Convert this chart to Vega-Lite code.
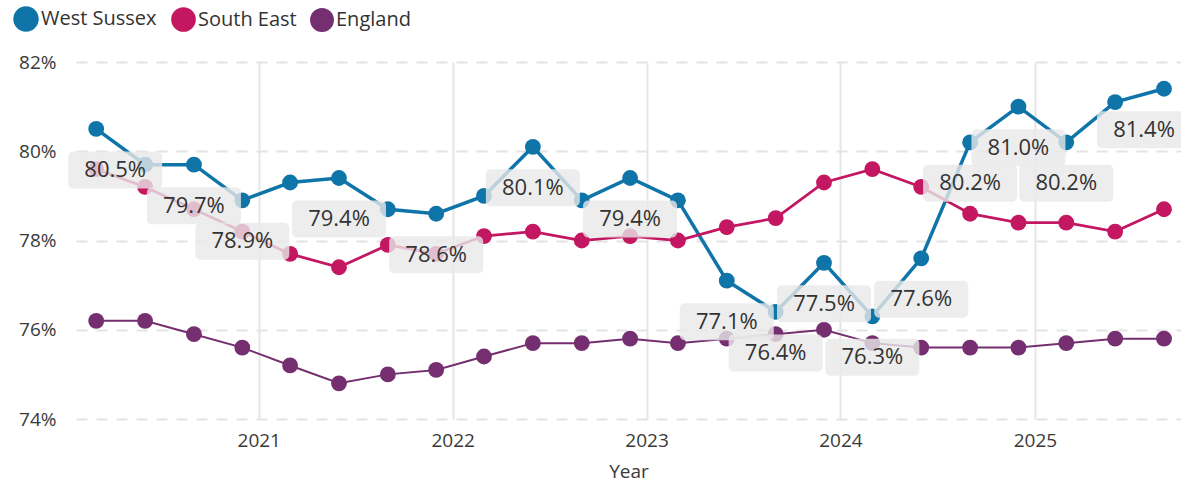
{
  "$schema": "https://vega.github.io/schema/vega-lite/v6.json",
  "width": 1105,
  "height": 357,
  "autosize": {"type": "none"},
  "padding": {"left": 76, "top": 62, "right": 0, "bottom": 75},
  "background": "white",
  "config": {
    "view": {"stroke": null},
    "font": "Open Sans"
  },
  "data": {
    "values": [
      {"date": "2020-03-01", "series": "West Sussex", "value": 80.5},
      {"date": "2020-06-01", "series": "West Sussex", "value": 79.7},
      {"date": "2020-09-01", "series": "West Sussex", "value": 79.7},
      {"date": "2020-12-01", "series": "West Sussex", "value": 78.9},
      {"date": "2021-03-01", "series": "West Sussex", "value": 79.3},
      {"date": "2021-06-01", "series": "West Sussex", "value": 79.4},
      {"date": "2021-09-01", "series": "West Sussex", "value": 78.7},
      {"date": "2021-12-01", "series": "West Sussex", "value": 78.6},
      {"date": "2022-03-01", "series": "West Sussex", "value": 79.0},
      {"date": "2022-06-01", "series": "West Sussex", "value": 80.1},
      {"date": "2022-09-01", "series": "West Sussex", "value": 78.9},
      {"date": "2022-12-01", "series": "West Sussex", "value": 79.4},
      {"date": "2023-03-01", "series": "West Sussex", "value": 78.9},
      {"date": "2023-06-01", "series": "West Sussex", "value": 77.1},
      {"date": "2023-09-01", "series": "West Sussex", "value": 76.4},
      {"date": "2023-12-01", "series": "West Sussex", "value": 77.5},
      {"date": "2024-03-01", "series": "West Sussex", "value": 76.3},
      {"date": "2024-06-01", "series": "West Sussex", "value": 77.6},
      {"date": "2024-09-01", "series": "West Sussex", "value": 80.2},
      {"date": "2024-12-01", "series": "West Sussex", "value": 81.0},
      {"date": "2025-03-01", "series": "West Sussex", "value": 80.2},
      {"date": "2025-06-01", "series": "West Sussex", "value": 81.1},
      {"date": "2025-09-01", "series": "West Sussex", "value": 81.4},
      {"date": "2020-03-01", "series": "South East", "value": 79.6},
      {"date": "2020-06-01", "series": "South East", "value": 79.2},
      {"date": "2020-09-01", "series": "South East", "value": 78.7},
      {"date": "2020-12-01", "series": "South East", "value": 78.2},
      {"date": "2021-03-01", "series": "South East", "value": 77.7},
      {"date": "2021-06-01", "series": "South East", "value": 77.4},
      {"date": "2021-09-01", "series": "South East", "value": 77.9},
      {"date": "2021-12-01", "series": "South East", "value": 77.7},
      {"date": "2022-03-01", "series": "South East", "value": 78.1},
      {"date": "2022-06-01", "series": "South East", "value": 78.2},
      {"date": "2022-09-01", "series": "South East", "value": 78.0},
      {"date": "2022-12-01", "series": "South East", "value": 78.1},
      {"date": "2023-03-01", "series": "South East", "value": 78.0},
      {"date": "2023-06-01", "series": "South East", "value": 78.3},
      {"date": "2023-09-01", "series": "South East", "value": 78.5},
      {"date": "2023-12-01", "series": "South East", "value": 79.3},
      {"date": "2024-03-01", "series": "South East", "value": 79.6},
      {"date": "2024-06-01", "series": "South East", "value": 79.2},
      {"date": "2024-09-01", "series": "South East", "value": 78.6},
      {"date": "2024-12-01", "series": "South East", "value": 78.4},
      {"date": "2025-03-01", "series": "South East", "value": 78.4},
      {"date": "2025-06-01", "series": "South East", "value": 78.2},
      {"date": "2025-09-01", "series": "South East", "value": 78.7},
      {"date": "2020-03-01", "series": "England", "value": 76.2},
      {"date": "2020-06-01", "series": "England", "value": 76.2},
      {"date": "2020-09-01", "series": "England", "value": 75.9},
      {"date": "2020-12-01", "series": "England", "value": 75.6},
      {"date": "2021-03-01", "series": "England", "value": 75.2},
      {"date": "2021-06-01", "series": "England", "value": 74.8},
      {"date": "2021-09-01", "series": "England", "value": 75.0},
      {"date": "2021-12-01", "series": "England", "value": 75.1},
      {"date": "2022-03-01", "series": "England", "value": 75.4},
      {"date": "2022-06-01", "series": "England", "value": 75.7},
      {"date": "2022-09-01", "series": "England", "value": 75.7},
      {"date": "2022-12-01", "series": "England", "value": 75.8},
      {"date": "2023-03-01", "series": "England", "value": 75.7},
      {"date": "2023-06-01", "series": "England", "value": 75.8},
      {"date": "2023-09-01", "series": "England", "value": 75.9},
      {"date": "2023-12-01", "series": "England", "value": 76.0},
      {"date": "2024-03-01", "series": "England", "value": 75.7},
      {"date": "2024-06-01", "series": "England", "value": 75.6},
      {"date": "2024-09-01", "series": "England", "value": 75.6},
      {"date": "2024-12-01", "series": "England", "value": 75.6},
      {"date": "2025-03-01", "series": "England", "value": 75.7},
      {"date": "2025-06-01", "series": "England", "value": 75.8},
      {"date": "2025-09-01", "series": "England", "value": 75.8}
    ]
  },
  "encoding": {
    "x": {
      "field": "date",
      "type": "temporal",
      "title": "Year",
      "scale": {
        "type": "utc",
        "domain": [
          {"year": 2020, "month": 1, "date": 23, "utc": true},
          {"year": 2025, "month": 10, "date": 3, "utc": true}
        ]
      },
      "axis": {
        "format": "%Y",
        "tickCount": {"interval": "year", "step": 1},
        "labelFontSize": 19,
        "labelColor": "#3a3a3a",
        "labelPadding": 12,
        "labelFlush": false,
        "ticks": false,
        "domain": false,
        "grid": true,
        "gridColor": "#e6e6e6",
        "gridWidth": 2,
        "titleFontSize": 19,
        "titleColor": "#3a3a3a",
        "titleFontWeight": "normal",
        "titlePadding": 12
      }
    },
    "y": {
      "field": "value",
      "type": "quantitative",
      "title": null,
      "scale": {"domain": [74, 82], "nice": false, "zero": false},
      "axis": {
        "values": [74, 76, 78, 80, 82],
        "labelExpr": "datum.value + '%'",
        "labelFontSize": 19,
        "labelColor": "#3a3a3a",
        "labelPadding": 20,
        "ticks": false,
        "domain": false,
        "grid": true,
        "gridColor": "#e3e3e3",
        "gridWidth": 2,
        "gridDash": [11, 9]
      }
    }
  },
  "layer": [
    {
      "mark": {"type": "line"},
      "encoding": {
        "color": {
          "field": "series",
          "type": "nominal",
          "scale": {
            "domain": ["West Sussex", "South East", "England"],
            "range": ["#0f74a8", "#c41761", "#752f70"]
          },
          "legend": {
            "title": null,
            "orient": "none",
            "direction": "horizontal",
            "legendX": -63,
            "legendY": -56,
            "symbolType": "circle",
            "symbolSize": 480,
            "symbolStrokeWidth": 0,
            "symbolOpacity": 1,
            "labelFontSize": 20,
            "labelColor": "#333333",
            "labelOffset": 2,
            "columnPadding": 10
          }
        },
        "strokeWidth": {
          "field": "series",
          "type": "nominal",
          "scale": {"domain": ["West Sussex", "South East", "England"], "range": [3.5, 2, 2]},
          "legend": null
        }
      }
    },
    {
      "mark": {"type": "point", "filled": true, "opacity": 1, "size": 250},
      "encoding": {
        "color": {"field": "series", "type": "nominal", "legend": null}
      }
    },
    {
      "transform": [
        {"filter": "datum.series == 'West Sussex' && indexof(['2020-09','2020-12','2021-06','2021-12','2022-06','2022-12','2023-06','2023-09','2023-12','2024-03','2024-06','2024-09','2024-12','2025-03'], utcFormat(datum.date, '%Y-%m')) >= 0"},
        {"calculate": "format(datum.value, '.1f') + '%'", "as": "label"}
      ],
      "layer": [
        {
          "mark": {"type": "rect", "width": 94, "height": 37, "cornerRadius": 5, "yOffset": 41, "fill": "#e8e8e8", "fillOpacity": 0.8}
        },
        {
          "mark": {"type": "text", "yOffset": 41, "fontSize": 22, "color": "#333333"},
          "encoding": {"text": {"field": "label", "type": "nominal"}}
        }
      ]
    },
    {
      "transform": [
        {"filter": "datum.series == 'West Sussex' && utcFormat(datum.date, '%Y-%m') == '2020-03'"},
        {"calculate": "format(datum.value, '.1f') + '%'", "as": "label"}
      ],
      "layer": [
        {
          "mark": {"type": "rect", "width": 94, "height": 37, "cornerRadius": 5, "yOffset": 41, "xOffset": 19, "fill": "#e8e8e8", "fillOpacity": 0.8}
        },
        {
          "mark": {"type": "text", "yOffset": 41, "xOffset": 19, "fontSize": 22, "color": "#333333"},
          "encoding": {"text": {"field": "label", "type": "nominal"}}
        }
      ]
    },
    {
      "transform": [
        {"filter": "datum.series == 'West Sussex' && utcFormat(datum.date, '%Y-%m') == '2025-09'"},
        {"calculate": "format(datum.value, '.1f') + '%'", "as": "label"}
      ],
      "layer": [
        {
          "mark": {"type": "rect", "width": 94, "height": 37, "cornerRadius": 5, "yOffset": 41, "xOffset": -20, "fill": "#e8e8e8", "fillOpacity": 0.8}
        },
        {
          "mark": {"type": "text", "yOffset": 41, "xOffset": -20, "fontSize": 22, "color": "#333333"},
          "encoding": {"text": {"field": "label", "type": "nominal"}}
        }
      ]
    }
  ]
}
